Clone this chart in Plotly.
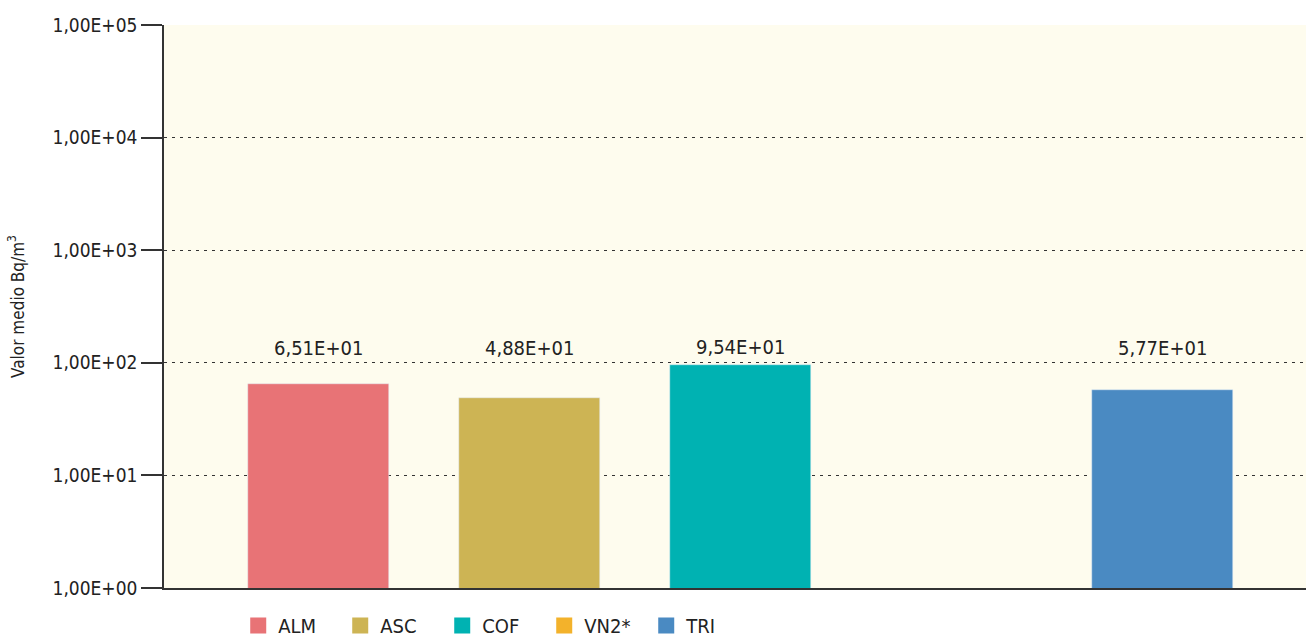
import math
import plotly.graph_objects as go

categories = ["ALM", "ASC", "COF", "VN2*", "TRI"]
values = [65.1, 48.8, 95.4, None, 57.7]
labels = ["6,51E+01", "4,88E+01", "9,54E+01", None, "5,77E+01"]
colors = ["#E87376", "#CDB454", "#00B2B2", "#F3B22B", "#4A8AC2"]

tick_vals = [1, 10, 100, 1000, 10000, 100000]
tick_text = ["1,00E+00", "1,00E+01", "1,00E+02", "1,00E+03", "1,00E+04", "1,00E+05"]

FONT = "DejaVu Sans Condensed, Liberation Sans Narrow, sans-serif"

fig = go.Figure()
for i, (cat, val, col) in enumerate(zip(categories, values, colors)):
    fig.add_trace(
        go.Bar(
            name=cat,
            x=[i],
            y=[val],
            width=0.67,
            marker_color=col,
            showlegend=False,
        )
    )
    # legend entry with a larger square swatch
    fig.add_trace(
        go.Scatter(
            name=cat,
            x=[None],
            y=[None],
            mode="markers",
            marker=dict(symbol="square", size=18, color=col),
        )
    )

# value labels sit just above the 1E+02 gridline (or above the bar if taller)
for i, (val, lab) in enumerate(zip(values, labels)):
    if val is None:
        continue
    fig.add_annotation(
        x=i,
        y=max(math.log10(val), 1.97) + 0.16,
        text=lab,
        showarrow=False,
        font=dict(size=20, color="#222222"),
    )

fig.update_layout(
    width=1306,
    height=637,
    margin=dict(l=164, r=0, t=25, b=49, autoexpand=False),
    paper_bgcolor="white",
    plot_bgcolor="#FEFCEE",
    font=dict(family=FONT, size=19, color="#222222"),
    showlegend=True,
    legend=dict(
        orientation="h",
        x=0.065,
        xanchor="left",
        y=-0.032,
        yanchor="top",
        font=dict(size=20),
        entrywidth=57,
        entrywidthmode="pixels",
        traceorder="normal",
        itemsizing="trace",
    ),
    bargap=0,
)

fig.update_xaxes(
    range=[-0.732, 4.68],
    showticklabels=False,
    showgrid=False,
    zeroline=False,
    showline=True,
    linecolor="#333333",
    linewidth=1.5,
    automargin=False,
)

fig.update_yaxes(
    type="log",
    range=[0, 5],
    tickvals=tick_vals,
    ticktext=tick_text,
    ticks="outside",
    ticklen=21,
    tickcolor="#333333",
    tickwidth=1.5,
    showline=True,
    linecolor="#333333",
    linewidth=1.5,
    showgrid=True,
    gridcolor="#333333",
    griddash="3px,5px",
    gridwidth=1.2,
    zeroline=False,
    automargin=False,
    tickfont=dict(size=19),
    title=dict(text="Valor medio Bq/m<sup>3</sup>", font=dict(size=17), standoff=24),
)

# drop the default 8px body margin so the figure fills the window exactly
fig.write_html(
    "out.html",
    config={"displayModeBar": False},
    post_script="document.body.style.margin='0';document.body.style.overflow='hidden';",
)
